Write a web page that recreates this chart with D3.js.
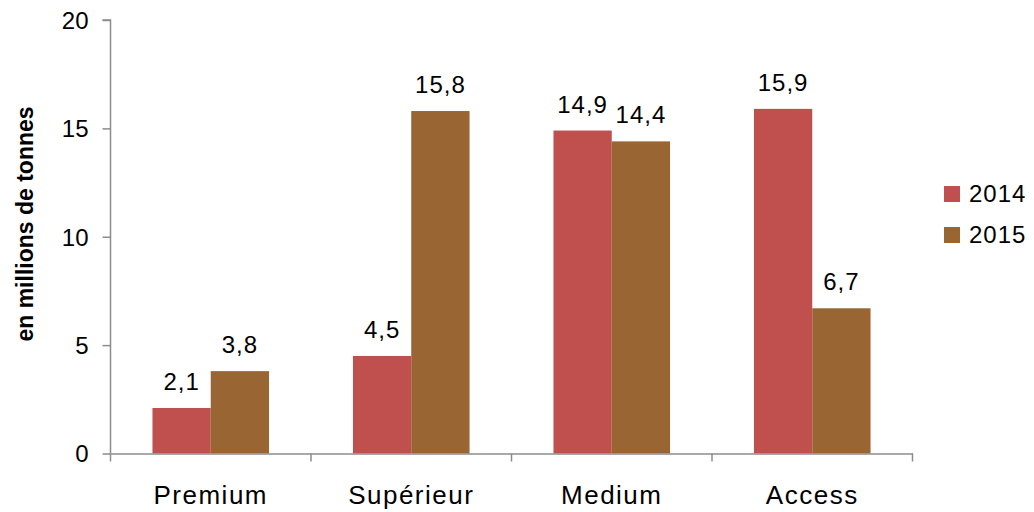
<!DOCTYPE html>
<html>
<head>
<meta charset="utf-8">
<script src="https://cdn.jsdelivr.net/npm/d3@7"></script>
<style>
  html, body { margin: 0; padding: 0; background: #fff; }
  svg { display: block; font-family: "Liberation Sans", Arial, sans-serif; }
</style>
</head>
<body>
<svg id="chart" width="1034" height="512"></svg>
<script>
// Tonnage by product range, in millions of tonnes
const categories = ["Premium", "Supérieur", "Medium", "Access"];
const seriesNames = ["2014", "2015"];
const values2014 = [2.1, 4.5, 14.9, 15.9];
const values2015 = [3.8, 15.8, 14.4, 6.7];
const yTicks = [0, 5, 10, 15, 20];
const colors = ["#C0504D", "#996633"];

const svg = d3.select("#chart");
const margin = { left: 110.5, right: 912.5, top: 20, bottom: 453.5 };

const x = d3.scaleBand().domain(categories).range([margin.left, margin.right]);
const x1 = d3.scaleBand().domain(seriesNames).range([0, x.bandwidth()]).paddingOuter(0.72).paddingInner(0);
const y = d3.scaleLinear().domain([0, 20]).range([margin.bottom, margin.top]);

const fmt = v => String(v.toFixed(1)).replace(".", ",");
const series = [values2014, values2015];

// Bars and their value labels
seriesNames.forEach((s, si) => {
  const rows = categories.map((c, i) => ({ c, v: series[si][i] }));
  svg.append("g").selectAll("rect")
    .data(rows)
    .join("rect")
    .attr("x", d => x(d.c) + x1(s))
    .attr("width", x1.bandwidth())
    .attr("y", d => y(d.v))
    .attr("height", d => y(0) - y(d.v))
    .attr("fill", colors[si]);

  svg.append("g").selectAll("text")
    .data(rows)
    .join("text")
    .attr("x", d => x(d.c) + x1(s) + x1.bandwidth() / 2)
    .attr("y", d => y(d.v) - 18)
    .attr("text-anchor", "middle")
    .attr("font-size", 24)
    .attr("letter-spacing", 1)
    .attr("fill", "#000")
    .text(d => fmt(d.v));
});

const axisColor = "#8c8c8c";

// Y axis
const yAxis = svg.append("g")
  .attr("transform", `translate(${margin.left},0)`)
  .call(d3.axisLeft(y).tickValues(yTicks).tickSize(8).tickPadding(14).tickFormat(d3.format("d")));
yAxis.select(".domain").attr("stroke", axisColor).attr("stroke-width", 1.5).attr("d", `M-8,${margin.top}H0V${margin.bottom}`);
yAxis.selectAll(".tick line").attr("stroke", axisColor).attr("stroke-width", 1.5);
yAxis.selectAll(".tick text").attr("font-size", 24).attr("fill", "#000").attr("font-family", "Liberation Sans, Arial, sans-serif").attr("dy", "0.35em");

// X axis
const xAxis = svg.append("g")
  .attr("transform", `translate(0,${margin.bottom})`)
  .call(d3.axisBottom(x).tickSize(0).tickPadding(0));
xAxis.select(".domain").attr("stroke", axisColor).attr("stroke-width", 1.5);
xAxis.selectAll(".tick text")
  .attr("y", 50).attr("dy", 0)
  .attr("font-size", 26).attr("fill", "#000").attr("letter-spacing", 1.5)
  .attr("font-family", "Liberation Sans, Arial, sans-serif");

// Category boundary ticks
svg.append("g").selectAll("line")
  .data(categories.map(c => x(c)).concat([margin.right]))
  .join("line")
  .attr("x1", d => d)
  .attr("x2", d => d)
  .attr("y1", margin.bottom)
  .attr("y2", margin.bottom + 8)
  .attr("stroke", axisColor)
  .attr("stroke-width", 1.5);

// Axis title
svg.append("text")
  .attr("transform", `translate(33,224) rotate(-90)`)
  .attr("text-anchor", "middle")
  .attr("font-size", 23)
  .attr("font-weight", "bold")
  .attr("fill", "#000")
  .text("en millions de tonnes");

// Legend
const legend = svg.append("g");
seriesNames.forEach((s, i) => {
  const ly = 186 + i * 41;
  legend.append("rect").attr("x", 944).attr("y", ly).attr("width", 16).attr("height", 16).attr("fill", colors[i]);
  legend.append("text").attr("x", 969).attr("y", ly + 8).attr("dy", "0.35em")
    .attr("font-size", 24).attr("letter-spacing", 1).attr("fill", "#000").text(s);
});
</script>
</body>
</html>
